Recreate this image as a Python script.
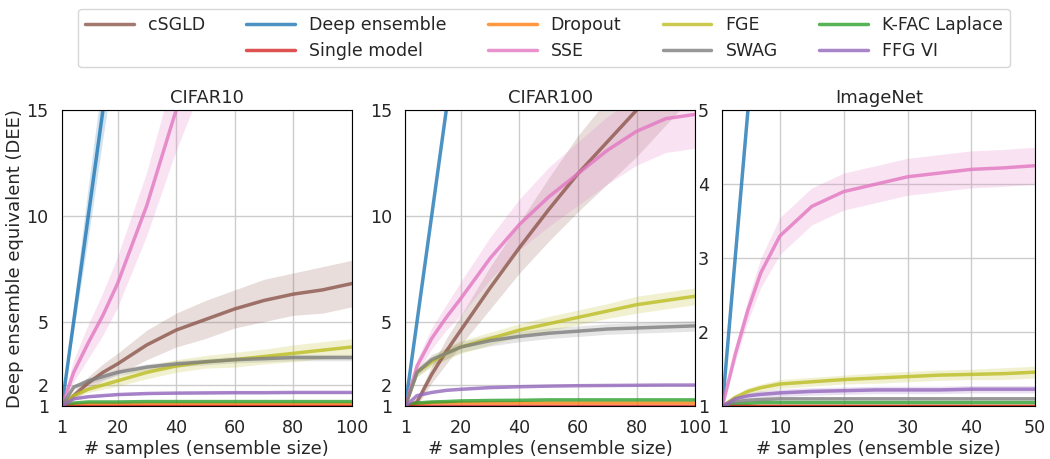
import numpy as np, pandas as pd, seaborn as sns, matplotlib.pyplot as plt
from matplotlib.lines import Line2D

methods = ["cSGLD","Deep ensemble","Dropout","FGE","K-FAC Laplace","Single model","SSE","SWAG","FFG VI"]
colors = {"cSGLD":"tab:brown","Deep ensemble":"tab:blue","Dropout":"tab:orange","FGE":"tab:olive",
          "K-FAC Laplace":"tab:green","Single model":"tab:red","SSE":"tab:pink","SWAG":"tab:gray","FFG VI":"tab:purple"}

x100 = [1,5,10,15,20,30,40,50,60,70,80,90,100]
x50 = [1,3,5,7,10,15,20,25,30,35,40,45,50]

c10 = {
 "cSGLD":        [1,1.5,2.1,2.6,3.0,3.9,4.6,5.1,5.6,6.0,6.3,6.5,6.8],
 "Deep ensemble":[1,5,10,15,20,30,40,50,60,70,80,90,100],
 "Dropout":      [1,1.08,1.1,1.1,1.1,1.1,1.1,1.1,1.1,1.1,1.1,1.1,1.1],
 "FGE":          [1,1.5,1.8,2.0,2.2,2.6,2.9,3.1,3.2,3.35,3.5,3.65,3.8],
 "K-FAC Laplace":[1,1.15,1.2,1.2,1.2,1.22,1.22,1.22,1.22,1.22,1.22,1.22,1.22],
 "Single model": [1]*13,
 "SSE":          [1,2.6,4.0,5.3,6.8,10.5,15.0,19,23,27,31,35,39],
 "SWAG":         [1,1.9,2.2,2.4,2.6,2.85,3.0,3.1,3.2,3.25,3.3,3.3,3.3],
 "FFG VI":       [1,1.35,1.45,1.5,1.55,1.6,1.62,1.63,1.64,1.64,1.65,1.65,1.65],
}
c10_band = {"cSGLD":[0,0.2,0.3,0.4,0.5,0.7,0.8,0.9,0.9,1.0,1.0,1.1,1.1],
            "SSE":[0,0.5,0.8,1.0,1.2,1.5,2.0,2.5,3,3,3,3,3],
            "Deep ensemble":[0,0.6,1.2,1.5,2,2,2,2,2,2,2,2,2],
            "FGE":[0,0.1,0.15,0.2,0.25,0.3,0.3,0.3,0.35,0.35,0.4,0.4,0.4],
            "SWAG":[0,0.1,0.15,0.15,0.15,0.15,0.15,0.15,0.15,0.15,0.15,0.15,0.15],
            "FFG VI":[0,0.05,0.05,0.05,0.05,0.05,0.05,0.05,0.05,0.05,0.05,0.05,0.05]}

c100 = {
 "cSGLD":        [1,1.2,2.5,3.6,4.6,6.6,8.5,10.3,12.0,13.5,15.0,16.5,18],
 "Deep ensemble":[1,5,10,15,20,30,40,50,60,70,80,90,100],
 "Dropout":      [1,1.1,1.15,1.15,1.15,1.15,1.15,1.15,1.15,1.15,1.15,1.15,1.15],
 "FGE":          [1,2.6,3.1,3.5,3.8,4.2,4.6,4.9,5.2,5.5,5.8,6.0,6.2],
 "K-FAC Laplace":[1,1.15,1.2,1.22,1.25,1.27,1.28,1.3,1.3,1.3,1.3,1.3,1.3],
 "Single model": [1]*13,
 "SSE":          [1,2.9,4.2,5.2,6.1,8.0,9.6,10.9,12.0,13.1,14.0,14.6,14.8],
 "SWAG":         [1,2.6,3.2,3.5,3.8,4.1,4.3,4.45,4.55,4.65,4.7,4.75,4.8],
 "FFG VI":       [1,1.5,1.65,1.75,1.8,1.88,1.92,1.95,1.97,1.98,1.99,2.0,2.0],
}
c100_band = {"cSGLD":[0,0.2,0.4,0.6,0.7,1.0,1.2,1.5,1.8,2.0,2.2,2.2,2.2],
             "SSE":[0,0.3,0.5,0.6,0.8,1.0,1.2,1.4,1.5,1.6,1.6,1.6,1.6],
             "FGE":[0,0.2,0.25,0.3,0.3,0.3,0.3,0.35,0.35,0.35,0.4,0.4,0.4],
             "SWAG":[0,0.2,0.25,0.25,0.25,0.25,0.25,0.25,0.25,0.25,0.25,0.25,0.25]}

inet = {
 "cSGLD":        [1]*13,
 "Deep ensemble":[1,3,5,7,10,15,20,25,30,35,40,45,50],
 "Dropout":      [1]*13,
 "FGE":          [1,1.12,1.2,1.25,1.3,1.33,1.36,1.38,1.4,1.42,1.43,1.44,1.46],
 "K-FAC Laplace":[1,1.03,1.04,1.05,1.05,1.05,1.05,1.05,1.05,1.05,1.05,1.05,1.05],
 "Single model": [1]*13,
 "SSE":          [1,1.7,2.3,2.8,3.3,3.7,3.9,4.0,4.1,4.15,4.2,4.22,4.25],
 "SWAG":         [1,1.06,1.08,1.09,1.1,1.1,1.1,1.1,1.1,1.1,1.1,1.1,1.1],
 "FFG VI":       [1,1.1,1.14,1.16,1.18,1.2,1.21,1.22,1.22,1.22,1.23,1.23,1.23],
}
inet_band = {"SSE":[0,0.1,0.15,0.2,0.25,0.25,0.25,0.25,0.25,0.25,0.25,0.25,0.25],
             "FGE":[0,0.03,0.05,0.05,0.06,0.06,0.06,0.07,0.07,0.07,0.07,0.08,0.08],
             "FFG VI":[0,0.03,0.04,0.05,0.05,0.05,0.05,0.05,0.05,0.05,0.05,0.05,0.05]}

panels = [("CIFAR10", x100, c10, c10_band, 100, 15, [1,2,5,10,15], [1,20,40,60,80,100]),
          ("CIFAR100", x100, c100, c100_band, 100, 15, [1,2,5,10,15], [1,20,40,60,80,100]),
          ("ImageNet", x50, inet, inet_band, 50, 5, [1,2,3,4,5], [1,10,20,30,40,50])]

sns.set_theme(style="whitegrid", font_scale=1.15)
plt.rcParams['font.family'] = ['DejaVu Sans']
fig = plt.figure(figsize=(10.5, 4.59), dpi=100)
boxes = [(0.059, 0.276), (0.386, 0.276), (0.688, 0.298)]
axes = [fig.add_axes([l, 0.115, w, 0.645]) for l, w in boxes]
for ax, (title, xs, d, band, xmax, ymax, yt, xt) in zip(axes, panels):
    rows = []
    for m in methods:
        for xv, yv in zip(xs, d[m]):
            rows.append({"x": xv, "y": yv, "method": m})
    df = pd.DataFrame(rows)
    sns.lineplot(data=df, x="x", y="y", hue="method", hue_order=methods, palette=colors,
                 lw=2.5, alpha=0.8, ax=ax, legend=(ax is axes[0]))
    for m, b in band.items():
        y = np.array(d[m]); b = np.array(b)
        ax.fill_between(xs, y - b, y + b, color=colors[m], alpha=0.2, lw=0)
    ax.set_xlim(1, xmax); ax.set_ylim(1, ymax)
    ax.set_yticks(yt); ax.set_xticks(xt)
    ax.set_title(title, fontsize=13, pad=5)
    ax.set_xlabel("# samples (ensemble size)", fontsize=13, labelpad=2)
    ax.set_ylabel("")
    for s in ax.spines.values():
        s.set_edgecolor("black"); s.set_linewidth(0.8)
axes[0].set_ylabel("Deep ensemble equivalent (DEE)", fontsize=13, labelpad=2)
h, l = axes[0].get_legend_handles_labels()
axes[0].legend_.remove()
hd = dict(zip(l, h))
blank = Line2D([], [], alpha=0)
seq = ["cSGLD", None, "Deep ensemble", "Single model", "Dropout", "SSE", "FGE", "SWAG", "K-FAC Laplace", "FFG VI"]
fig.legend([hd[s] if s else blank for s in seq], [s if s else "" for s in seq], loc="upper center", ncol=5,
           bbox_to_anchor=(0.518, 1.0), fontsize=12.5,
           frameon=True, edgecolor="#cccccc", columnspacing=2.4, handlelength=2.8)
fig.savefig("out.png", dpi=100)
